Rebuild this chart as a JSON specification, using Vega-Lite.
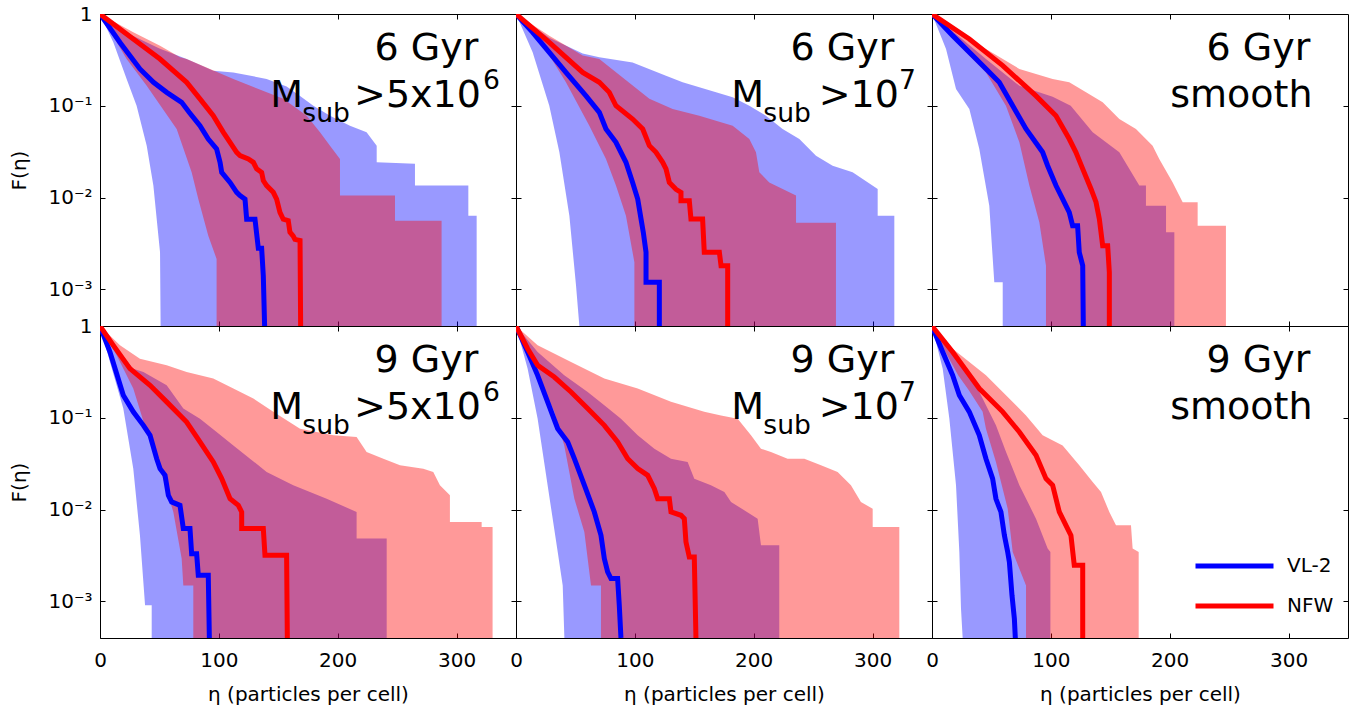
{
"$schema":"https://vega.github.io/schema/vega-lite/v6.json",
"background":"white",
"padding":{"left":9,"top":3,"right":5,"bottom":0},
"columns":3,
"spacing":0,
"bounds":"flush",
"resolve":{"legend":{"color":"independent"}},
"datasets":{
"lab":[
{"p":1,"a":"6 Gyr","m":"M","u":"sub","b":">5x10","c":"6"},
{"p":2,"a":"6 Gyr","m":"M","u":"sub","b":">10","c":"7"},
{"p":3,"a":"6 Gyr","b":"smooth"},
{"p":4,"a":"9 Gyr","m":"M","u":"sub","b":">5x10","c":"6"},
{"p":5,"a":"9 Gyr","m":"M","u":"sub","b":">10","c":"7"},
{"p":6,"a":"9 Gyr","b":"smooth"}
],
"band":[
{"p":1,"s":"VL-2","x":0,"y":1},{"p":1,"s":"VL-2","x":25,"y":0.6},{"p":1,"s":"VL-2","x":50,"y":0.42},{"p":1,"s":"VL-2","x":72.9,"y":0.323},{"p":1,"s":"VL-2","x":95.3,"y":0.241},{"p":1,"s":"VL-2","x":112.2,"y":0.231},{"p":1,"s":"VL-2","x":140.2,"y":0.196},{"p":1,"s":"VL-2","x":157,"y":0.162},{"p":1,"s":"VL-2","x":168.3,"y":0.128},{"p":1,"s":"VL-2","x":179.5,"y":0.1},{"p":1,"s":"VL-2","x":193.5,"y":0.078},{"p":1,"s":"VL-2","x":210.3,"y":0.0607},{"p":1,"s":"VL-2","x":224.3,"y":0.0514},{"p":1,"s":"VL-2","x":232.8,"y":0.0367},{"p":1,"s":"VL-2","x":232.8,"y":0.0242},{"p":1,"s":"VL-2","x":265,"y":0.0233},{"p":1,"s":"VL-2","x":265,"y":0.0135},{"p":1,"s":"VL-2","x":309.9,"y":0.0135},{"p":1,"s":"VL-2","x":309.9,"y":0.00634},{"p":1,"s":"VL-2","x":316.9,"y":0.00634},{"p":1,"s":"VL-2","x":316.9,"y":0.000398},
{"p":1,"s":"VL-2","x":51,"y":0.000398},{"p":1,"s":"VL-2","x":50.5,"y":0.00253},{"p":1,"s":"VL-2","x":47.7,"y":0.00583},{"p":1,"s":"VL-2","x":44.9,"y":0.0135},{"p":1,"s":"VL-2","x":39.3,"y":0.0367},{"p":1,"s":"VL-2","x":30.8,"y":0.1},{"p":1,"s":"VL-2","x":22.4,"y":0.196},{"p":1,"s":"VL-2","x":11.2,"y":0.491},
{"p":1,"s":"NFW","x":0,"y":1},{"p":1,"s":"NFW","x":28,"y":0.631},{"p":1,"s":"NFW","x":50.5,"y":0.452},{"p":1,"s":"NFW","x":67.3,"y":0.337},{"p":1,"s":"NFW","x":72.9,"y":0.323},{"p":1,"s":"NFW","x":112.2,"y":0.196},{"p":1,"s":"NFW","x":154.2,"y":0.119},{"p":1,"s":"NFW","x":173.9,"y":0.078},{"p":1,"s":"NFW","x":185.1,"y":0.0514},{"p":1,"s":"NFW","x":193.5,"y":0.0367},{"p":1,"s":"NFW","x":201.9,"y":0.0263},{"p":1,"s":"NFW","x":201.9,"y":0.0105},{"p":1,"s":"NFW","x":248.2,"y":0.0105},{"p":1,"s":"NFW","x":248.2,"y":0.0056},{"p":1,"s":"NFW","x":287.4,"y":0.0056},{"p":1,"s":"NFW","x":287.4,"y":0.000398},
{"p":1,"s":"NFW","x":98.1,"y":0.000398},{"p":1,"s":"NFW","x":98.1,"y":0.00214},{"p":1,"s":"NFW","x":91.1,"y":0.00384},{"p":1,"s":"NFW","x":82.7,"y":0.00964},{"p":1,"s":"NFW","x":77.1,"y":0.0188},{"p":1,"s":"NFW","x":64.5,"y":0.0558},{"p":1,"s":"NFW","x":39.3,"y":0.165},{"p":1,"s":"NFW","x":22.4,"y":0.323},
{"p":2,"s":"VL-2","x":0,"y":1},{"p":2,"s":"VL-2","x":28,"y":0.55},{"p":2,"s":"VL-2","x":56.1,"y":0.37},{"p":2,"s":"VL-2","x":70.1,"y":0.337},{"p":2,"s":"VL-2","x":98.1,"y":0.297},{"p":2,"s":"VL-2","x":126.2,"y":0.213},{"p":2,"s":"VL-2","x":140.2,"y":0.18},{"p":2,"s":"VL-2","x":168.3,"y":0.14},{"p":2,"s":"VL-2","x":182.3,"y":0.124},{"p":2,"s":"VL-2","x":196.3,"y":0.1},{"p":2,"s":"VL-2","x":210.3,"y":0.078},{"p":2,"s":"VL-2","x":224.3,"y":0.0558},{"p":2,"s":"VL-2","x":238.4,"y":0.0434},{"p":2,"s":"VL-2","x":252.4,"y":0.0285},{"p":2,"s":"VL-2","x":266.4,"y":0.0222},{"p":2,"s":"VL-2","x":283.2,"y":0.0188},{"p":2,"s":"VL-2","x":304.3,"y":0.0124},{"p":2,"s":"VL-2","x":304.3,"y":0.00634},{"p":2,"s":"VL-2","x":318.3,"y":0.00634},{"p":2,"s":"VL-2","x":318.3,"y":0.000398},
{"p":2,"s":"VL-2","x":53.3,"y":0.000398},{"p":2,"s":"VL-2","x":50.5,"y":0.0011},{"p":2,"s":"VL-2","x":44.9,"y":0.00634},{"p":2,"s":"VL-2","x":36.5,"y":0.0311},{"p":2,"s":"VL-2","x":28,"y":0.1},{"p":2,"s":"VL-2","x":14,"y":0.382},
{"p":2,"s":"NFW","x":0,"y":1},{"p":2,"s":"NFW","x":28,"y":0.581},{"p":2,"s":"NFW","x":56.1,"y":0.352},{"p":2,"s":"NFW","x":70.1,"y":0.323},{"p":2,"s":"NFW","x":112.2,"y":0.119},{"p":2,"s":"NFW","x":131.8,"y":0.0922},{"p":2,"s":"NFW","x":154.2,"y":0.078},{"p":2,"s":"NFW","x":182.3,"y":0.0607},{"p":2,"s":"NFW","x":196.3,"y":0.0434},{"p":2,"s":"NFW","x":201.9,"y":0.0311},{"p":2,"s":"NFW","x":204.7,"y":0.0188},{"p":2,"s":"NFW","x":213.1,"y":0.0146},{"p":2,"s":"NFW","x":235.6,"y":0.0105},{"p":2,"s":"NFW","x":235.6,"y":0.0053},{"p":2,"s":"NFW","x":269.2,"y":0.0053},{"p":2,"s":"NFW","x":269.2,"y":0.000398},
{"p":2,"s":"NFW","x":99.6,"y":0.000398},{"p":2,"s":"NFW","x":99.6,"y":0.00197},{"p":2,"s":"NFW","x":92.5,"y":0.00634},{"p":2,"s":"NFW","x":84.1,"y":0.0135},{"p":2,"s":"NFW","x":75.7,"y":0.0263},{"p":2,"s":"NFW","x":61.7,"y":0.0607},{"p":2,"s":"NFW","x":42,"y":0.18},{"p":2,"s":"NFW","x":19.6,"y":0.534},
{"p":3,"s":"VL-2","x":0,"y":1},{"p":3,"s":"VL-2","x":45.4,"y":0.323},{"p":3,"s":"VL-2","x":73.5,"y":0.165},{"p":3,"s":"VL-2","x":101.5,"y":0.125},{"p":3,"s":"VL-2","x":116.7,"y":0.1},{"p":3,"s":"VL-2","x":135.2,"y":0.0514},{"p":3,"s":"VL-2","x":157.6,"y":0.0311},{"p":3,"s":"VL-2","x":174.4,"y":0.0135},{"p":3,"s":"VL-2","x":180,"y":0.0135},{"p":3,"s":"VL-2","x":180,"y":0.00815},{"p":3,"s":"VL-2","x":196.9,"y":0.00815},{"p":3,"s":"VL-2","x":196.9,"y":0.00418},{"p":3,"s":"VL-2","x":203.9,"y":0.00418},{"p":3,"s":"VL-2","x":203.9,"y":0.000398},
{"p":3,"s":"VL-2","x":59.5,"y":0.000398},{"p":3,"s":"VL-2","x":59.5,"y":0.00119},{"p":3,"s":"VL-2","x":52.4,"y":0.00119},{"p":3,"s":"VL-2","x":48.2,"y":0.00815},{"p":3,"s":"VL-2","x":39.8,"y":0.0338},{"p":3,"s":"VL-2","x":31.4,"y":0.0922},{"p":3,"s":"VL-2","x":20.2,"y":0.152},{"p":3,"s":"VL-2","x":11.8,"y":0.416},
{"p":3,"s":"NFW","x":0,"y":1},{"p":3,"s":"NFW","x":45.4,"y":0.416},{"p":3,"s":"NFW","x":73.5,"y":0.252},{"p":3,"s":"NFW","x":101.5,"y":0.196},{"p":3,"s":"NFW","x":115.5,"y":0.18},{"p":3,"s":"NFW","x":129.6,"y":0.14},{"p":3,"s":"NFW","x":143.6,"y":0.109},{"p":3,"s":"NFW","x":157.6,"y":0.0717},{"p":3,"s":"NFW","x":171.6,"y":0.0558},{"p":3,"s":"NFW","x":185.6,"y":0.0367},{"p":3,"s":"NFW","x":191.2,"y":0.0263},{"p":3,"s":"NFW","x":202.5,"y":0.0146},{"p":3,"s":"NFW","x":210.9,"y":0.0089},{"p":3,"s":"NFW","x":223.5,"y":0.0089},{"p":3,"s":"NFW","x":223.5,"y":0.00493},{"p":3,"s":"NFW","x":247.3,"y":0.00493},{"p":3,"s":"NFW","x":247.3,"y":0.000398},
{"p":3,"s":"NFW","x":95.9,"y":0.000398},{"p":3,"s":"NFW","x":95.9,"y":0.00181},{"p":3,"s":"NFW","x":90.3,"y":0.00537},{"p":3,"s":"NFW","x":81.9,"y":0.0135},{"p":3,"s":"NFW","x":73.5,"y":0.04},{"p":3,"s":"NFW","x":62.2,"y":0.1},{"p":3,"s":"NFW","x":45.4,"y":0.231},{"p":3,"s":"NFW","x":28.6,"y":0.382},
{"p":4,"s":"VL-2","x":0,"y":1},{"p":4,"s":"VL-2","x":14,"y":0.566},{"p":4,"s":"VL-2","x":28,"y":0.343},{"p":4,"s":"VL-2","x":36.5,"y":0.315},{"p":4,"s":"VL-2","x":56.1,"y":0.226},{"p":4,"s":"VL-2","x":70.1,"y":0.126},{"p":4,"s":"VL-2","x":84.1,"y":0.0978},{"p":4,"s":"VL-2","x":98.1,"y":0.07},{"p":4,"s":"VL-2","x":112.2,"y":0.05},{"p":4,"s":"VL-2","x":126.2,"y":0.0358},{"p":4,"s":"VL-2","x":140.2,"y":0.0257},{"p":4,"s":"VL-2","x":162.6,"y":0.0184},{"p":4,"s":"VL-2","x":190.7,"y":0.0131},{"p":4,"s":"VL-2","x":215.9,"y":0.0094},{"p":4,"s":"VL-2","x":215.9,"y":0.00482},{"p":4,"s":"VL-2","x":241.2,"y":0.00482},{"p":4,"s":"VL-2","x":241.2,"y":0.000398},
{"p":4,"s":"VL-2","x":43.5,"y":0.000398},{"p":4,"s":"VL-2","x":43.5,"y":0.000904},{"p":4,"s":"VL-2","x":37.9,"y":0.000904},{"p":4,"s":"VL-2","x":33.6,"y":0.00523},{"p":4,"s":"VL-2","x":28,"y":0.0279},{"p":4,"s":"VL-2","x":19.6,"y":0.126},{"p":4,"s":"VL-2","x":8.4,"y":0.405},
{"p":4,"s":"NFW","x":0,"y":1},{"p":4,"s":"NFW","x":16.8,"y":0.616},{"p":4,"s":"NFW","x":33.6,"y":0.441},{"p":4,"s":"NFW","x":56.1,"y":0.373},{"p":4,"s":"NFW","x":72.9,"y":0.315},{"p":4,"s":"NFW","x":95.3,"y":0.267},{"p":4,"s":"NFW","x":112.2,"y":0.208},{"p":4,"s":"NFW","x":129,"y":0.162},{"p":4,"s":"NFW","x":145.8,"y":0.116},{"p":4,"s":"NFW","x":168.3,"y":0.076},{"p":4,"s":"NFW","x":196.3,"y":0.0644},{"p":4,"s":"NFW","x":215.9,"y":0.0617},{"p":4,"s":"NFW","x":224.3,"y":0.0424},{"p":4,"s":"NFW","x":238.4,"y":0.0358},{"p":4,"s":"NFW","x":252.4,"y":0.0303},{"p":4,"s":"NFW","x":272,"y":0.0279},{"p":4,"s":"NFW","x":280.4,"y":0.0257},{"p":4,"s":"NFW","x":286,"y":0.0184},{"p":4,"s":"NFW","x":294.4,"y":0.0143},{"p":4,"s":"NFW","x":294.4,"y":0.00731},{"p":4,"s":"NFW","x":321.1,"y":0.00731},{"p":4,"s":"NFW","x":321.1,"y":0.00645},{"p":4,"s":"NFW","x":330.3,"y":0.00645},{"p":4,"s":"NFW","x":330.3,"y":0.000398},
{"p":4,"s":"NFW","x":78.5,"y":0.000398},{"p":4,"s":"NFW","x":78.5,"y":0.00149},{"p":4,"s":"NFW","x":70.1,"y":0.00149},{"p":4,"s":"NFW","x":68.7,"y":0.00292},{"p":4,"s":"NFW","x":61.7,"y":0.0094},{"p":4,"s":"NFW","x":50.5,"y":0.0279},{"p":4,"s":"NFW","x":39.3,"y":0.07},{"p":4,"s":"NFW","x":28,"y":0.208},{"p":4,"s":"NFW","x":14,"y":0.479},
{"p":5,"s":"VL-2","x":0,"y":1},{"p":5,"s":"VL-2","x":18.2,"y":0.521},{"p":5,"s":"VL-2","x":40.6,"y":0.29},{"p":5,"s":"VL-2","x":60.3,"y":0.191},{"p":5,"s":"VL-2","x":74.3,"y":0.137},{"p":5,"s":"VL-2","x":88.3,"y":0.0978},{"p":5,"s":"VL-2","x":102.4,"y":0.0644},{"p":5,"s":"VL-2","x":116.4,"y":0.046},{"p":5,"s":"VL-2","x":130.4,"y":0.0358},{"p":5,"s":"VL-2","x":144.4,"y":0.033},{"p":5,"s":"VL-2","x":150,"y":0.0217},{"p":5,"s":"VL-2","x":164,"y":0.0184},{"p":5,"s":"VL-2","x":175.3,"y":0.0155},{"p":5,"s":"VL-2","x":180.9,"y":0.0121},{"p":5,"s":"VL-2","x":203.3,"y":0.00795},{"p":5,"s":"VL-2","x":206.1,"y":0.00407},{"p":5,"s":"VL-2","x":221.5,"y":0.00407},{"p":5,"s":"VL-2","x":221.5,"y":0.000398},
{"p":5,"s":"VL-2","x":40.7,"y":0.000398},{"p":5,"s":"VL-2","x":39.3,"y":0.00149},{"p":5,"s":"VL-2","x":35.1,"y":0.00344},{"p":5,"s":"VL-2","x":26.6,"y":0.0184},{"p":5,"s":"VL-2","x":18.2,"y":0.0978},{"p":5,"s":"VL-2","x":9.8,"y":0.343},
{"p":5,"s":"NFW","x":0,"y":1},{"p":5,"s":"NFW","x":18.2,"y":0.616},{"p":5,"s":"NFW","x":46.3,"y":0.405},{"p":5,"s":"NFW","x":74.3,"y":0.267},{"p":5,"s":"NFW","x":102.4,"y":0.208},{"p":5,"s":"NFW","x":130.4,"y":0.149},{"p":5,"s":"NFW","x":158.4,"y":0.116},{"p":5,"s":"NFW","x":172.5,"y":0.106},{"p":5,"s":"NFW","x":186.5,"y":0.0978},{"p":5,"s":"NFW","x":197.7,"y":0.0644},{"p":5,"s":"NFW","x":206.1,"y":0.046},{"p":5,"s":"NFW","x":214.5,"y":0.0424},{"p":5,"s":"NFW","x":228.5,"y":0.0358},{"p":5,"s":"NFW","x":242.6,"y":0.0358},{"p":5,"s":"NFW","x":256.6,"y":0.0303},{"p":5,"s":"NFW","x":270.6,"y":0.0257},{"p":5,"s":"NFW","x":281.8,"y":0.0184},{"p":5,"s":"NFW","x":290.2,"y":0.0121},{"p":5,"s":"NFW","x":300.1,"y":0.0102},{"p":5,"s":"NFW","x":300.1,"y":0.00645},{"p":5,"s":"NFW","x":322.5,"y":0.00645},{"p":5,"s":"NFW","x":322.5,"y":0.000398},
{"p":5,"s":"NFW","x":71.5,"y":0.000398},{"p":5,"s":"NFW","x":71.5,"y":0.00149},{"p":5,"s":"NFW","x":63.1,"y":0.00149},{"p":5,"s":"NFW","x":57.5,"y":0.00569},{"p":5,"s":"NFW","x":49.1,"y":0.0131},{"p":5,"s":"NFW","x":40.6,"y":0.05},{"p":5,"s":"NFW","x":32.2,"y":0.116},{"p":5,"s":"NFW","x":18.2,"y":0.29},{"p":5,"s":"NFW","x":7,"y":0.616},
{"p":6,"s":"VL-2","x":0,"y":1},{"p":6,"s":"VL-2","x":17.4,"y":0.5},{"p":6,"s":"VL-2","x":31.4,"y":0.315},{"p":6,"s":"VL-2","x":42.6,"y":0.162},{"p":6,"s":"VL-2","x":53.8,"y":0.0827},{"p":6,"s":"VL-2","x":62.3,"y":0.0424},{"p":6,"s":"VL-2","x":73.5,"y":0.0184},{"p":6,"s":"VL-2","x":81.9,"y":0.0111},{"p":6,"s":"VL-2","x":87.5,"y":0.00795},{"p":6,"s":"VL-2","x":97.3,"y":0.00375},{"p":6,"s":"VL-2","x":99.6,"y":0.00344},{"p":6,"s":"VL-2","x":99.6,"y":0.000398},
{"p":6,"s":"VL-2","x":25.8,"y":0.000398},{"p":6,"s":"VL-2","x":24.4,"y":0.00083},{"p":6,"s":"VL-2","x":23,"y":0.00344},{"p":6,"s":"VL-2","x":20.2,"y":0.0184},{"p":6,"s":"VL-2","x":14.6,"y":0.0978},{"p":6,"s":"VL-2","x":9,"y":0.343},
{"p":6,"s":"NFW","x":0,"y":1},{"p":6,"s":"NFW","x":17.4,"y":0.566},{"p":6,"s":"NFW","x":45.4,"y":0.29},{"p":6,"s":"NFW","x":59.5,"y":0.191},{"p":6,"s":"NFW","x":79.1,"y":0.106},{"p":6,"s":"NFW","x":93.1,"y":0.0644},{"p":6,"s":"NFW","x":109.9,"y":0.05},{"p":6,"s":"NFW","x":123.9,"y":0.0303},{"p":6,"s":"NFW","x":135.2,"y":0.02},{"p":6,"s":"NFW","x":142.2,"y":0.0155},{"p":6,"s":"NFW","x":149.2,"y":0.0094},{"p":6,"s":"NFW","x":154.8,"y":0.00673},{"p":6,"s":"NFW","x":167.4,"y":0.00673},{"p":6,"s":"NFW","x":168.8,"y":0.00375},{"p":6,"s":"NFW","x":173.9,"y":0.00344},{"p":6,"s":"NFW","x":173.9,"y":0.000398},
{"p":6,"s":"NFW","x":79.1,"y":0.000398},{"p":6,"s":"NFW","x":79.1,"y":0.00149},{"p":6,"s":"NFW","x":67.9,"y":0.00344},{"p":6,"s":"NFW","x":63.7,"y":0.0102},{"p":6,"s":"NFW","x":53.8,"y":0.033},{"p":6,"s":"NFW","x":45.4,"y":0.076},{"p":6,"s":"NFW","x":42.6,"y":0.116},{"p":6,"s":"NFW","x":31,"y":0.2},{"p":6,"s":"NFW","x":22,"y":0.29},{"p":6,"s":"NFW","x":12,"y":0.5}
],
"line":[
{"p":1,"s":"VL-2","x":0,"y":1},{"p":1,"s":"VL-2","x":16.8,"y":0.49},{"p":1,"s":"VL-2","x":33.6,"y":0.252},{"p":1,"s":"VL-2","x":45,"y":0.18},{"p":1,"s":"VL-2","x":56.1,"y":0.14},{"p":1,"s":"VL-2","x":68.7,"y":0.109},{"p":1,"s":"VL-2","x":75,"y":0.085},{"p":1,"s":"VL-2","x":84.1,"y":0.0607},{"p":1,"s":"VL-2","x":91.1,"y":0.0434},{"p":1,"s":"VL-2","x":98.1,"y":0.0338},{"p":1,"s":"VL-2","x":101,"y":0.0242},{"p":1,"s":"VL-2","x":102.4,"y":0.0188},{"p":1,"s":"VL-2","x":109.4,"y":0.0146},{"p":1,"s":"VL-2","x":115,"y":0.0114},{"p":1,"s":"VL-2","x":117.8,"y":0.0105},{"p":1,"s":"VL-2","x":122,"y":0.0096},{"p":1,"s":"VL-2","x":123.4,"y":0.0058},{"p":1,"s":"VL-2","x":130.4,"y":0.0058},{"p":1,"s":"VL-2","x":133.2,"y":0.0028},{"p":1,"s":"VL-2","x":136,"y":0.0028},{"p":1,"s":"VL-2","x":137.4,"y":0.0014},{"p":1,"s":"VL-2","x":138.5,"y":0.000398},
{"p":1,"s":"NFW","x":0,"y":1},{"p":1,"s":"NFW","x":28,"y":0.534},{"p":1,"s":"NFW","x":50.5,"y":0.323},{"p":1,"s":"NFW","x":72.9,"y":0.18},{"p":1,"s":"NFW","x":84.1,"y":0.119},{"p":1,"s":"NFW","x":95.3,"y":0.078},{"p":1,"s":"NFW","x":103.8,"y":0.0514},{"p":1,"s":"NFW","x":109.4,"y":0.04},{"p":1,"s":"NFW","x":115,"y":0.0311},{"p":1,"s":"NFW","x":117.8,"y":0.0287},{"p":1,"s":"NFW","x":124.8,"y":0.0263},{"p":1,"s":"NFW","x":129,"y":0.0242},{"p":1,"s":"NFW","x":131.8,"y":0.0205},{"p":1,"s":"NFW","x":136,"y":0.0188},{"p":1,"s":"NFW","x":137.4,"y":0.0153},{"p":1,"s":"NFW","x":140.2,"y":0.0135},{"p":1,"s":"NFW","x":145.8,"y":0.0114},{"p":1,"s":"NFW","x":148.6,"y":0.0096},{"p":1,"s":"NFW","x":151.4,"y":0.0069},{"p":1,"s":"NFW","x":154.2,"y":0.0058},{"p":1,"s":"NFW","x":158.4,"y":0.0056},{"p":1,"s":"NFW","x":159.8,"y":0.0042},{"p":1,"s":"NFW","x":162.6,"y":0.0038},{"p":1,"s":"NFW","x":164,"y":0.0035},{"p":1,"s":"NFW","x":168.3,"y":0.0034},{"p":1,"s":"NFW","x":168.8,"y":0.000398},
{"p":2,"s":"VL-2","x":0,"y":1},{"p":2,"s":"VL-2","x":14,"y":0.631},{"p":2,"s":"VL-2","x":28,"y":0.382},{"p":2,"s":"VL-2","x":42,"y":0.231},{"p":2,"s":"VL-2","x":58.9,"y":0.128},{"p":2,"s":"VL-2","x":70.1,"y":0.0848},{"p":2,"s":"VL-2","x":75.7,"y":0.0558},{"p":2,"s":"VL-2","x":84.1,"y":0.04},{"p":2,"s":"VL-2","x":92.5,"y":0.0242},{"p":2,"s":"VL-2","x":98.1,"y":0.0146},{"p":2,"s":"VL-2","x":102.4,"y":0.00964},{"p":2,"s":"VL-2","x":105.2,"y":0.00583},{"p":2,"s":"VL-2","x":107.1,"y":0.00418},{"p":2,"s":"VL-2","x":109.4,"y":0.00253},{"p":2,"s":"VL-2","x":109.4,"y":0.00119},{"p":2,"s":"VL-2","x":120.6,"y":0.00119},{"p":2,"s":"VL-2","x":120.6,"y":0.000398},
{"p":2,"s":"NFW","x":0,"y":1},{"p":2,"s":"NFW","x":28,"y":0.491},{"p":2,"s":"NFW","x":56.1,"y":0.231},{"p":2,"s":"NFW","x":70.1,"y":0.18},{"p":2,"s":"NFW","x":78.5,"y":0.14},{"p":2,"s":"NFW","x":84.1,"y":0.1},{"p":2,"s":"NFW","x":98.1,"y":0.0717},{"p":2,"s":"NFW","x":106.6,"y":0.0558},{"p":2,"s":"NFW","x":112.2,"y":0.0367},{"p":2,"s":"NFW","x":117.8,"y":0.0311},{"p":2,"s":"NFW","x":123.4,"y":0.0242},{"p":2,"s":"NFW","x":126.2,"y":0.0205},{"p":2,"s":"NFW","x":129,"y":0.0146},{"p":2,"s":"NFW","x":134.6,"y":0.0123},{"p":2,"s":"NFW","x":138.8,"y":0.0114},{"p":2,"s":"NFW","x":138.8,"y":0.00925},{"p":2,"s":"NFW","x":145.8,"y":0.00925},{"p":2,"s":"NFW","x":147.2,"y":0.00583},{"p":2,"s":"NFW","x":157,"y":0.00583},{"p":2,"s":"NFW","x":158.4,"y":0.00253},{"p":2,"s":"NFW","x":171.1,"y":0.00253},{"p":2,"s":"NFW","x":172.5,"y":0.00181},{"p":2,"s":"NFW","x":178.1,"y":0.00181},{"p":2,"s":"NFW","x":178.1,"y":0.000398},
{"p":3,"s":"VL-2","x":0,"y":1},{"p":3,"s":"VL-2","x":17.4,"y":0.581},{"p":3,"s":"VL-2","x":42.6,"y":0.274},{"p":3,"s":"VL-2","x":56.6,"y":0.18},{"p":3,"s":"VL-2","x":67.9,"y":0.1},{"p":3,"s":"VL-2","x":79.1,"y":0.0558},{"p":3,"s":"VL-2","x":93.1,"y":0.0311},{"p":3,"s":"VL-2","x":97.3,"y":0.0222},{"p":3,"s":"VL-2","x":104.3,"y":0.0135},{"p":3,"s":"VL-2","x":109.9,"y":0.00964},{"p":3,"s":"VL-2","x":115.5,"y":0.0069},{"p":3,"s":"VL-2","x":118.3,"y":0.00493},{"p":3,"s":"VL-2","x":122.5,"y":0.00493},{"p":3,"s":"VL-2","x":123.9,"y":0.00253},{"p":3,"s":"VL-2","x":126.8,"y":0.00181},{"p":3,"s":"VL-2","x":127.3,"y":0.000398},
{"p":3,"s":"NFW","x":0,"y":1},{"p":3,"s":"NFW","x":31.4,"y":0.534},{"p":3,"s":"NFW","x":59.5,"y":0.274},{"p":3,"s":"NFW","x":87.5,"y":0.128},{"p":3,"s":"NFW","x":104.3,"y":0.078},{"p":3,"s":"NFW","x":115.5,"y":0.0434},{"p":3,"s":"NFW","x":121.1,"y":0.0311},{"p":3,"s":"NFW","x":126.8,"y":0.0205},{"p":3,"s":"NFW","x":133.8,"y":0.0124},{"p":3,"s":"NFW","x":138,"y":0.0089},{"p":3,"s":"NFW","x":140.8,"y":0.00583},{"p":3,"s":"NFW","x":143.6,"y":0.00299},{"p":3,"s":"NFW","x":147.8,"y":0.00299},{"p":3,"s":"NFW","x":149.2,"y":0.00153},{"p":3,"s":"NFW","x":149.2,"y":0.000398},
{"p":4,"s":"VL-2","x":0,"y":1},{"p":4,"s":"VL-2","x":8.4,"y":0.521},{"p":4,"s":"VL-2","x":19.6,"y":0.176},{"p":4,"s":"VL-2","x":28,"y":0.116},{"p":4,"s":"VL-2","x":36.5,"y":0.0827},{"p":4,"s":"VL-2","x":42.1,"y":0.0644},{"p":4,"s":"VL-2","x":47.7,"y":0.0358},{"p":4,"s":"VL-2","x":50.5,"y":0.0279},{"p":4,"s":"VL-2","x":54.7,"y":0.0236},{"p":4,"s":"VL-2","x":57.5,"y":0.0143},{"p":4,"s":"VL-2","x":60.3,"y":0.0121},{"p":4,"s":"VL-2","x":67.3,"y":0.0111},{"p":4,"s":"VL-2","x":70.1,"y":0.0062},{"p":4,"s":"VL-2","x":75.7,"y":0.0062},{"p":4,"s":"VL-2","x":77.1,"y":0.0033},{"p":4,"s":"VL-2","x":81.3,"y":0.0033},{"p":4,"s":"VL-2","x":82.7,"y":0.00192},{"p":4,"s":"VL-2","x":91.1,"y":0.00192},{"p":4,"s":"VL-2","x":92,"y":0.000398},
{"p":4,"s":"NFW","x":0,"y":1},{"p":4,"s":"NFW","x":11.2,"y":0.616},{"p":4,"s":"NFW","x":25.2,"y":0.343},{"p":4,"s":"NFW","x":42.1,"y":0.226},{"p":4,"s":"NFW","x":56.1,"y":0.149},{"p":4,"s":"NFW","x":72.9,"y":0.0899},{"p":4,"s":"NFW","x":84.1,"y":0.0545},{"p":4,"s":"NFW","x":95.3,"y":0.033},{"p":4,"s":"NFW","x":102.4,"y":0.0217},{"p":4,"s":"NFW","x":109.4,"y":0.0131},{"p":4,"s":"NFW","x":116.4,"y":0.0111},{"p":4,"s":"NFW","x":119.2,"y":0.0094},{"p":4,"s":"NFW","x":119.2,"y":0.0062},{"p":4,"s":"NFW","x":137.4,"y":0.0062},{"p":4,"s":"NFW","x":138.8,"y":0.00317},{"p":4,"s":"NFW","x":157,"y":0.00317},{"p":4,"s":"NFW","x":157.6,"y":0.000398},
{"p":5,"s":"VL-2","x":0,"y":1},{"p":5,"s":"VL-2","x":9.8,"y":0.521},{"p":5,"s":"VL-2","x":18.2,"y":0.29},{"p":5,"s":"VL-2","x":26.6,"y":0.149},{"p":5,"s":"VL-2","x":35.1,"y":0.076},{"p":5,"s":"VL-2","x":43.5,"y":0.0545},{"p":5,"s":"VL-2","x":49.1,"y":0.0358},{"p":5,"s":"VL-2","x":57.5,"y":0.0184},{"p":5,"s":"VL-2","x":65.9,"y":0.0094},{"p":5,"s":"VL-2","x":71.5,"y":0.00523},{"p":5,"s":"VL-2","x":74.3,"y":0.00292},{"p":5,"s":"VL-2","x":77.1,"y":0.00209},{"p":5,"s":"VL-2","x":79.9,"y":0.00177},{"p":5,"s":"VL-2","x":85.5,"y":0.00177},{"p":5,"s":"VL-2","x":86.9,"y":0.000904},{"p":5,"s":"VL-2","x":88.3,"y":0.000398},
{"p":5,"s":"NFW","x":0,"y":1},{"p":5,"s":"NFW","x":9.8,"y":0.566},{"p":5,"s":"NFW","x":18.2,"y":0.373},{"p":5,"s":"NFW","x":32.2,"y":0.278},{"p":5,"s":"NFW","x":46.3,"y":0.191},{"p":5,"s":"NFW","x":60.3,"y":0.126},{"p":5,"s":"NFW","x":74.3,"y":0.0827},{"p":5,"s":"NFW","x":85.5,"y":0.0545},{"p":5,"s":"NFW","x":94,"y":0.0358},{"p":5,"s":"NFW","x":102.4,"y":0.0279},{"p":5,"s":"NFW","x":110.8,"y":0.0236},{"p":5,"s":"NFW","x":116.4,"y":0.0169},{"p":5,"s":"NFW","x":119.2,"y":0.0131},{"p":5,"s":"NFW","x":129,"y":0.0131},{"p":5,"s":"NFW","x":130.4,"y":0.0094},{"p":5,"s":"NFW","x":138.8,"y":0.00865},{"p":5,"s":"NFW","x":141.6,"y":0.00795},{"p":5,"s":"NFW","x":143,"y":0.00443},{"p":5,"s":"NFW","x":145.8,"y":0.00304},{"p":5,"s":"NFW","x":150,"y":0.00304},{"p":5,"s":"NFW","x":151.4,"y":0.000398},
{"p":6,"s":"VL-2","x":0,"y":1},{"p":6,"s":"VL-2","x":9,"y":0.521},{"p":6,"s":"VL-2","x":17.4,"y":0.29},{"p":6,"s":"VL-2","x":23,"y":0.176},{"p":6,"s":"VL-2","x":31.4,"y":0.116},{"p":6,"s":"VL-2","x":39.8,"y":0.0644},{"p":6,"s":"VL-2","x":45.4,"y":0.0358},{"p":6,"s":"VL-2","x":51,"y":0.0217},{"p":6,"s":"VL-2","x":53.8,"y":0.0131},{"p":6,"s":"VL-2","x":58,"y":0.0094},{"p":6,"s":"VL-2","x":60.9,"y":0.00523},{"p":6,"s":"VL-2","x":63.7,"y":0.00344},{"p":6,"s":"VL-2","x":65.1,"y":0.00268},{"p":6,"s":"VL-2","x":67.3,"y":0.00116},{"p":6,"s":"VL-2","x":69.3,"y":0.000647},{"p":6,"s":"VL-2","x":70.1,"y":0.000398},
{"p":6,"s":"NFW","x":0,"y":1},{"p":6,"s":"NFW","x":17.4,"y":0.521},{"p":6,"s":"NFW","x":39.8,"y":0.208},{"p":6,"s":"NFW","x":59.5,"y":0.116},{"p":6,"s":"NFW","x":73.5,"y":0.07},{"p":6,"s":"NFW","x":87.5,"y":0.039},{"p":6,"s":"NFW","x":95.9,"y":0.0217},{"p":6,"s":"NFW","x":101.5,"y":0.0184},{"p":6,"s":"NFW","x":107.1,"y":0.0094},{"p":6,"s":"NFW","x":112.7,"y":0.00673},{"p":6,"s":"NFW","x":116.9,"y":0.00523},{"p":6,"s":"NFW","x":119.7,"y":0.00247},{"p":6,"s":"NFW","x":126.8,"y":0.00247},{"p":6,"s":"NFW","x":126.8,"y":0.000398}
]
},
"concat":[
{"width":416,"height":312,"resolve":{"axis":{"x":"independent","y":"independent"}},"layer":[
 {"data":{"name":"band"},"transform":[{"filter":"datum.p==1&&datum.s=='VL-2'"}],"mark":{"type":"line","fill":"#0000ff","fillOpacity":0.4,"strokeOpacity":0,"clip":true},"encoding":{"x":{"field":"x","type":"quantitative","scale":{"domain":[0,350],"nice":false,"zero":false},"axis":{"values":[0,100,200,300],"labels":false,"title":null}},"y":{"field":"y","type":"quantitative","scale":{"type":"log","domain":[0.000398,1],"nice":false},"axis":{"values":[1,0.1,0.01,0.001],"title":"F(η)","labelExpr":"datum.value>0.5?'1':datum.value>0.05?'10⁻¹':datum.value>0.005?'10⁻²':'10⁻³'"}},"order":{"value":null}}},
 {"data":{"name":"band"},"transform":[{"filter":"datum.p==1&&datum.s=='NFW'"}],"mark":{"type":"line","fill":"#ff0000","fillOpacity":0.4,"strokeOpacity":0,"clip":true},"encoding":{"x":{"field":"x","type":"quantitative","axis":null},"y":{"field":"y","type":"quantitative","axis":null},"order":{"value":null}}},
 {"data":{"name":"line"},"transform":[{"filter":"datum.p==1&&datum.s=='VL-2'"}],"mark":{"type":"line","strokeWidth":5,"clip":true},"encoding":{"x":{"field":"x","type":"quantitative","axis":null},"y":{"field":"y","type":"quantitative","axis":null},"color":{"field":"s","type":"nominal","scale":{"domain":["VL-2","NFW"],"range":["#0000ff","#ff0000"]},"legend":null},"order":{"value":null}}},
 {"data":{"name":"line"},"transform":[{"filter":"datum.p==1&&datum.s=='NFW'"}],"mark":{"type":"line","strokeWidth":5,"clip":true},"encoding":{"x":{"field":"x","type":"quantitative","axis":{"orient":"top","values":[100,200,300],"labels":false,"title":null}},"y":{"field":"y","type":"quantitative","axis":{"orient":"right","values":[0.1,0.01,0.001],"labels":false,"title":null}},"color":{"field":"s","type":"nominal","scale":{"domain":["VL-2","NFW"],"range":["#0000ff","#ff0000"]},"legend":null},"order":{"value":null}}},
 {"data":{"name":"lab"},"transform":[{"filter":"datum.p==1"}],"mark":{"type":"text","align":"right","baseline":"alphabetic","fontSize":38},"encoding":{"x":{"datum":318.4,"type":"quantitative","axis":null},"y":{"datum":0.3192,"type":"quantitative","axis":null},"text":{"field":"a"}}},
 {"data":{"name":"lab"},"transform":[{"filter":"datum.p==1"}],"encoding":{"x":{"datum":336.5,"type":"quantitative","axis":null},"y":{"datum":0.0969,"type":"quantitative","axis":null}},"layer":[
  {"mark":{"type":"text","align":"right","baseline":"alphabetic","fontSize":38,"dx":-197},"encoding":{"text":{"field":"m"}}},
  {"mark":{"type":"text","align":"right","baseline":"alphabetic","fontSize":26.6,"dx":-150,"dy":15},"encoding":{"text":{"field":"u"}}},
  {"mark":{"type":"text","align":"right","baseline":"alphabetic","fontSize":38,"dx":-19},"encoding":{"text":{"field":"b"}}},
  {"mark":{"type":"text","align":"right","baseline":"alphabetic","fontSize":26.6,"dy":-18},"encoding":{"text":{"field":"c"}}}
 ]}
]},
{"width":416,"height":312,"resolve":{"axis":{"x":"independent","y":"independent"}},"layer":[
 {"data":{"name":"band"},"transform":[{"filter":"datum.p==2&&datum.s=='VL-2'"}],"mark":{"type":"line","fill":"#0000ff","fillOpacity":0.4,"strokeOpacity":0,"clip":true},"encoding":{"x":{"field":"x","type":"quantitative","scale":{"domain":[0,350],"nice":false,"zero":false},"axis":{"values":[0,100,200,300],"labels":false,"title":null}},"y":{"field":"y","type":"quantitative","scale":{"type":"log","domain":[0.000398,1],"nice":false},"axis":{"values":[1,0.1,0.01,0.001],"labels":false,"title":null}},"order":{"value":null}}},
 {"data":{"name":"band"},"transform":[{"filter":"datum.p==2&&datum.s=='NFW'"}],"mark":{"type":"line","fill":"#ff0000","fillOpacity":0.4,"strokeOpacity":0,"clip":true},"encoding":{"x":{"field":"x","type":"quantitative","axis":null},"y":{"field":"y","type":"quantitative","axis":null},"order":{"value":null}}},
 {"data":{"name":"line"},"transform":[{"filter":"datum.p==2&&datum.s=='VL-2'"}],"mark":{"type":"line","strokeWidth":5,"clip":true},"encoding":{"x":{"field":"x","type":"quantitative","axis":null},"y":{"field":"y","type":"quantitative","axis":null},"color":{"field":"s","type":"nominal","scale":{"domain":["VL-2","NFW"],"range":["#0000ff","#ff0000"]},"legend":null},"order":{"value":null}}},
 {"data":{"name":"line"},"transform":[{"filter":"datum.p==2&&datum.s=='NFW'"}],"mark":{"type":"line","strokeWidth":5,"clip":true},"encoding":{"x":{"field":"x","type":"quantitative","axis":{"orient":"top","values":[100,200,300],"labels":false,"title":null}},"y":{"field":"y","type":"quantitative","axis":{"orient":"right","values":[0.1,0.01,0.001],"labels":false,"title":null}},"color":{"field":"s","type":"nominal","scale":{"domain":["VL-2","NFW"],"range":["#0000ff","#ff0000"]},"legend":null},"order":{"value":null}}},
 {"data":{"name":"lab"},"transform":[{"filter":"datum.p==2"}],"mark":{"type":"text","align":"right","baseline":"alphabetic","fontSize":38},"encoding":{"x":{"datum":318.4,"type":"quantitative","axis":null},"y":{"datum":0.3192,"type":"quantitative","axis":null},"text":{"field":"a"}}},
 {"data":{"name":"lab"},"transform":[{"filter":"datum.p==2"}],"encoding":{"x":{"datum":336.5,"type":"quantitative","axis":null},"y":{"datum":0.0969,"type":"quantitative","axis":null}},"layer":[
  {"mark":{"type":"text","align":"right","baseline":"alphabetic","fontSize":38,"dx":-152},"encoding":{"text":{"field":"m"}}},
  {"mark":{"type":"text","align":"right","baseline":"alphabetic","fontSize":26.6,"dx":-105,"dy":15},"encoding":{"text":{"field":"u"}}},
  {"mark":{"type":"text","align":"right","baseline":"alphabetic","fontSize":38,"dx":-17},"encoding":{"text":{"field":"b"}}},
  {"mark":{"type":"text","align":"right","baseline":"alphabetic","fontSize":26.6,"dy":-18},"encoding":{"text":{"field":"c"}}}
 ]}
]},
{"width":416,"height":312,"resolve":{"axis":{"x":"independent","y":"independent"}},"layer":[
 {"data":{"name":"band"},"transform":[{"filter":"datum.p==3&&datum.s=='VL-2'"}],"mark":{"type":"line","fill":"#0000ff","fillOpacity":0.4,"strokeOpacity":0,"clip":true},"encoding":{"x":{"field":"x","type":"quantitative","scale":{"domain":[0,350],"nice":false,"zero":false},"axis":{"values":[0,100,200,300],"labels":false,"title":null}},"y":{"field":"y","type":"quantitative","scale":{"type":"log","domain":[0.000398,1],"nice":false},"axis":{"values":[1,0.1,0.01,0.001],"labels":false,"title":null}},"order":{"value":null}}},
 {"data":{"name":"band"},"transform":[{"filter":"datum.p==3&&datum.s=='NFW'"}],"mark":{"type":"line","fill":"#ff0000","fillOpacity":0.4,"strokeOpacity":0,"clip":true},"encoding":{"x":{"field":"x","type":"quantitative","axis":null},"y":{"field":"y","type":"quantitative","axis":null},"order":{"value":null}}},
 {"data":{"name":"line"},"transform":[{"filter":"datum.p==3&&datum.s=='VL-2'"}],"mark":{"type":"line","strokeWidth":5,"clip":true},"encoding":{"x":{"field":"x","type":"quantitative","axis":null},"y":{"field":"y","type":"quantitative","axis":null},"color":{"field":"s","type":"nominal","scale":{"domain":["VL-2","NFW"],"range":["#0000ff","#ff0000"]},"legend":null},"order":{"value":null}}},
 {"data":{"name":"line"},"transform":[{"filter":"datum.p==3&&datum.s=='NFW'"}],"mark":{"type":"line","strokeWidth":5,"clip":true},"encoding":{"x":{"field":"x","type":"quantitative","axis":{"orient":"top","values":[100,200,300],"labels":false,"title":null}},"y":{"field":"y","type":"quantitative","axis":{"orient":"right","values":[0.1,0.01,0.001],"labels":false,"title":null}},"color":{"field":"s","type":"nominal","scale":{"domain":["VL-2","NFW"],"range":["#0000ff","#ff0000"]},"legend":null},"order":{"value":null}}},
 {"data":{"name":"lab"},"transform":[{"filter":"datum.p==3"}],"mark":{"type":"text","align":"right","baseline":"alphabetic","fontSize":38},"encoding":{"x":{"datum":318.4,"type":"quantitative","axis":null},"y":{"datum":0.3192,"type":"quantitative","axis":null},"text":{"field":"a"}}},
 {"data":{"name":"lab"},"transform":[{"filter":"datum.p==3"}],"mark":{"type":"text","align":"right","baseline":"alphabetic","fontSize":38},"encoding":{"x":{"datum":320.1,"type":"quantitative","axis":null},"y":{"datum":0.0969,"type":"quantitative","axis":null},"text":{"field":"b"}}}
]},
{"width":416,"height":312,"resolve":{"axis":{"x":"independent","y":"independent"}},"layer":[
 {"data":{"name":"band"},"transform":[{"filter":"datum.p==4&&datum.s=='VL-2'"}],"mark":{"type":"line","fill":"#0000ff","fillOpacity":0.4,"strokeOpacity":0,"clip":true},"encoding":{"x":{"field":"x","type":"quantitative","scale":{"domain":[0,350],"nice":false,"zero":false},"axis":{"values":[0,100,200,300],"title":"η (particles per cell)"}},"y":{"field":"y","type":"quantitative","scale":{"type":"log","domain":[0.000398,1],"nice":false},"axis":{"values":[1,0.1,0.01,0.001],"title":"F(η)","labelExpr":"datum.value>0.5?'1':datum.value>0.05?'10⁻¹':datum.value>0.005?'10⁻²':'10⁻³'"}},"order":{"value":null}}},
 {"data":{"name":"band"},"transform":[{"filter":"datum.p==4&&datum.s=='NFW'"}],"mark":{"type":"line","fill":"#ff0000","fillOpacity":0.4,"strokeOpacity":0,"clip":true},"encoding":{"x":{"field":"x","type":"quantitative","axis":null},"y":{"field":"y","type":"quantitative","axis":null},"order":{"value":null}}},
 {"data":{"name":"line"},"transform":[{"filter":"datum.p==4&&datum.s=='VL-2'"}],"mark":{"type":"line","strokeWidth":5,"clip":true},"encoding":{"x":{"field":"x","type":"quantitative","axis":null},"y":{"field":"y","type":"quantitative","axis":null},"color":{"field":"s","type":"nominal","scale":{"domain":["VL-2","NFW"],"range":["#0000ff","#ff0000"]},"legend":null},"order":{"value":null}}},
 {"data":{"name":"line"},"transform":[{"filter":"datum.p==4&&datum.s=='NFW'"}],"mark":{"type":"line","strokeWidth":5,"clip":true},"encoding":{"x":{"field":"x","type":"quantitative","axis":{"orient":"top","values":[100,200,300],"labels":false,"title":null}},"y":{"field":"y","type":"quantitative","axis":{"orient":"right","values":[0.1,0.01,0.001],"labels":false,"title":null}},"color":{"field":"s","type":"nominal","scale":{"domain":["VL-2","NFW"],"range":["#0000ff","#ff0000"]},"legend":null},"order":{"value":null}}},
 {"data":{"name":"lab"},"transform":[{"filter":"datum.p==4"}],"mark":{"type":"text","align":"right","baseline":"alphabetic","fontSize":38},"encoding":{"x":{"datum":318.4,"type":"quantitative","axis":null},"y":{"datum":0.3192,"type":"quantitative","axis":null},"text":{"field":"a"}}},
 {"data":{"name":"lab"},"transform":[{"filter":"datum.p==4"}],"encoding":{"x":{"datum":336.5,"type":"quantitative","axis":null},"y":{"datum":0.0969,"type":"quantitative","axis":null}},"layer":[
  {"mark":{"type":"text","align":"right","baseline":"alphabetic","fontSize":38,"dx":-197},"encoding":{"text":{"field":"m"}}},
  {"mark":{"type":"text","align":"right","baseline":"alphabetic","fontSize":26.6,"dx":-150,"dy":15},"encoding":{"text":{"field":"u"}}},
  {"mark":{"type":"text","align":"right","baseline":"alphabetic","fontSize":38,"dx":-19},"encoding":{"text":{"field":"b"}}},
  {"mark":{"type":"text","align":"right","baseline":"alphabetic","fontSize":26.6,"dy":-18},"encoding":{"text":{"field":"c"}}}
 ]}
]},
{"width":416,"height":312,"resolve":{"axis":{"x":"independent","y":"independent"}},"layer":[
 {"data":{"name":"band"},"transform":[{"filter":"datum.p==5&&datum.s=='VL-2'"}],"mark":{"type":"line","fill":"#0000ff","fillOpacity":0.4,"strokeOpacity":0,"clip":true},"encoding":{"x":{"field":"x","type":"quantitative","scale":{"domain":[0,350],"nice":false,"zero":false},"axis":{"values":[0,100,200,300],"title":"η (particles per cell)"}},"y":{"field":"y","type":"quantitative","scale":{"type":"log","domain":[0.000398,1],"nice":false},"axis":{"values":[1,0.1,0.01,0.001],"labels":false,"title":null}},"order":{"value":null}}},
 {"data":{"name":"band"},"transform":[{"filter":"datum.p==5&&datum.s=='NFW'"}],"mark":{"type":"line","fill":"#ff0000","fillOpacity":0.4,"strokeOpacity":0,"clip":true},"encoding":{"x":{"field":"x","type":"quantitative","axis":null},"y":{"field":"y","type":"quantitative","axis":null},"order":{"value":null}}},
 {"data":{"name":"line"},"transform":[{"filter":"datum.p==5&&datum.s=='VL-2'"}],"mark":{"type":"line","strokeWidth":5,"clip":true},"encoding":{"x":{"field":"x","type":"quantitative","axis":null},"y":{"field":"y","type":"quantitative","axis":null},"color":{"field":"s","type":"nominal","scale":{"domain":["VL-2","NFW"],"range":["#0000ff","#ff0000"]},"legend":null},"order":{"value":null}}},
 {"data":{"name":"line"},"transform":[{"filter":"datum.p==5&&datum.s=='NFW'"}],"mark":{"type":"line","strokeWidth":5,"clip":true},"encoding":{"x":{"field":"x","type":"quantitative","axis":{"orient":"top","values":[100,200,300],"labels":false,"title":null}},"y":{"field":"y","type":"quantitative","axis":{"orient":"right","values":[0.1,0.01,0.001],"labels":false,"title":null}},"color":{"field":"s","type":"nominal","scale":{"domain":["VL-2","NFW"],"range":["#0000ff","#ff0000"]},"legend":null},"order":{"value":null}}},
 {"data":{"name":"lab"},"transform":[{"filter":"datum.p==5"}],"mark":{"type":"text","align":"right","baseline":"alphabetic","fontSize":38},"encoding":{"x":{"datum":318.4,"type":"quantitative","axis":null},"y":{"datum":0.3192,"type":"quantitative","axis":null},"text":{"field":"a"}}},
 {"data":{"name":"lab"},"transform":[{"filter":"datum.p==5"}],"encoding":{"x":{"datum":336.5,"type":"quantitative","axis":null},"y":{"datum":0.0969,"type":"quantitative","axis":null}},"layer":[
  {"mark":{"type":"text","align":"right","baseline":"alphabetic","fontSize":38,"dx":-152},"encoding":{"text":{"field":"m"}}},
  {"mark":{"type":"text","align":"right","baseline":"alphabetic","fontSize":26.6,"dx":-105,"dy":15},"encoding":{"text":{"field":"u"}}},
  {"mark":{"type":"text","align":"right","baseline":"alphabetic","fontSize":38,"dx":-17},"encoding":{"text":{"field":"b"}}},
  {"mark":{"type":"text","align":"right","baseline":"alphabetic","fontSize":26.6,"dy":-18},"encoding":{"text":{"field":"c"}}}
 ]}
]},
{"width":416,"height":312,"resolve":{"axis":{"x":"independent","y":"independent"}},"layer":[
 {"data":{"name":"band"},"transform":[{"filter":"datum.p==6&&datum.s=='VL-2'"}],"mark":{"type":"line","fill":"#0000ff","fillOpacity":0.4,"strokeOpacity":0,"clip":true},"encoding":{"x":{"field":"x","type":"quantitative","scale":{"domain":[0,350],"nice":false,"zero":false},"axis":{"values":[0,100,200,300],"title":"η (particles per cell)"}},"y":{"field":"y","type":"quantitative","scale":{"type":"log","domain":[0.000398,1],"nice":false},"axis":{"values":[1,0.1,0.01,0.001],"labels":false,"title":null}},"order":{"value":null}}},
 {"data":{"name":"band"},"transform":[{"filter":"datum.p==6&&datum.s=='NFW'"}],"mark":{"type":"line","fill":"#ff0000","fillOpacity":0.4,"strokeOpacity":0,"clip":true},"encoding":{"x":{"field":"x","type":"quantitative","axis":null},"y":{"field":"y","type":"quantitative","axis":null},"order":{"value":null}}},
 {"data":{"name":"line"},"transform":[{"filter":"datum.p==6&&datum.s=='VL-2'"}],"mark":{"type":"line","strokeWidth":5,"clip":true},"encoding":{"x":{"field":"x","type":"quantitative","axis":null},"y":{"field":"y","type":"quantitative","axis":null},"color":{"field":"s","type":"nominal","scale":{"domain":["VL-2","NFW"],"range":["#0000ff","#ff0000"]},"legend":{"orient":"none","legendX":261,"legendY":230,"title":null,"symbolType":"stroke","symbolSize":6084,"symbolStrokeWidth":5,"labelFontSize":20,"labelFont":"DejaVu Sans","labelColor":"#000","labelOffset":11,"rowPadding":20,"clipHeight":20,"padding":0}},"order":{"value":null}}},
 {"data":{"name":"line"},"transform":[{"filter":"datum.p==6&&datum.s=='NFW'"}],"mark":{"type":"line","strokeWidth":5,"clip":true},"encoding":{"x":{"field":"x","type":"quantitative","axis":{"orient":"top","values":[100,200,300],"labels":false,"title":null}},"y":{"field":"y","type":"quantitative","axis":{"orient":"right","values":[0.1,0.01,0.001],"labels":false,"title":null}},"color":{"field":"s","type":"nominal","scale":{"domain":["VL-2","NFW"],"range":["#0000ff","#ff0000"]},"legend":{"orient":"none","legendX":261,"legendY":230,"title":null,"symbolType":"stroke","symbolSize":6084,"symbolStrokeWidth":5,"labelFontSize":20,"labelFont":"DejaVu Sans","labelColor":"#000","labelOffset":11,"rowPadding":20,"clipHeight":20,"padding":0}},"order":{"value":null}}},
 {"data":{"name":"lab"},"transform":[{"filter":"datum.p==6"}],"mark":{"type":"text","align":"right","baseline":"alphabetic","fontSize":38},"encoding":{"x":{"datum":318.4,"type":"quantitative","axis":null},"y":{"datum":0.3192,"type":"quantitative","axis":null},"text":{"field":"a"}}},
 {"data":{"name":"lab"},"transform":[{"filter":"datum.p==6"}],"mark":{"type":"text","align":"right","baseline":"alphabetic","fontSize":38},"encoding":{"x":{"datum":320.1,"type":"quantitative","axis":null},"y":{"datum":0.0969,"type":"quantitative","axis":null},"text":{"field":"b"}}}
]}
],
"config":{
 "view":{"stroke":"#000","strokeWidth":1},
 "axis":{"grid":false,"domain":false,"ticks":true,"tickColor":"#000","tickSize":-5,"tickWidth":1,"labelFont":"DejaVu Sans","labelFontSize":20,"labelColor":"#000","labelFlush":false,"labelOverlap":false,"labelPadding":13,"titleFont":"DejaVu Sans","titleFontSize":20,"titleFontWeight":"normal","titleColor":"#000"},
 "axisX":{"labelPadding":17,"titlePadding":14},
 "axisY":{"titlePadding":18},
 "text":{"font":"DejaVu Sans","color":"#000"},
 "legend":{"labelFont":"DejaVu Sans"}
}
}
